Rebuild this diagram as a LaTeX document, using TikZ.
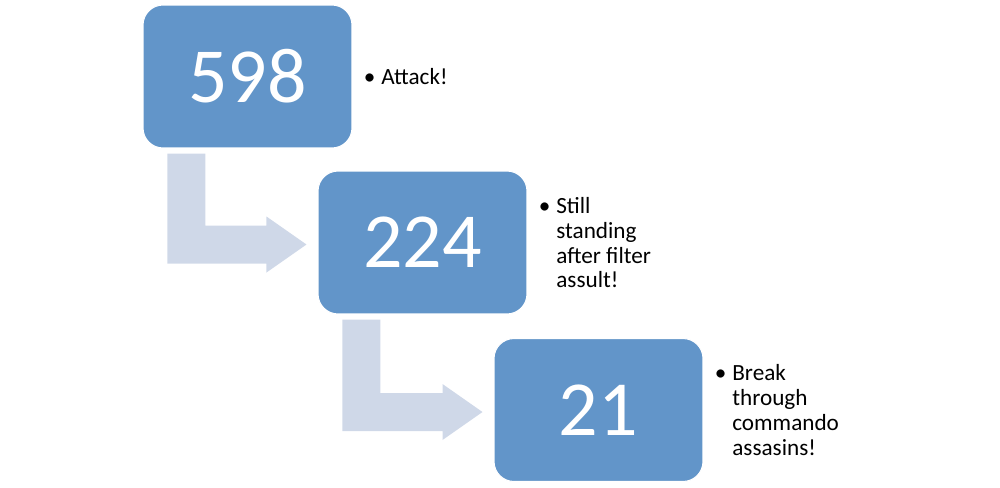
\documentclass[tikz,border=0pt]{standalone}
\usepackage{fontspec}
\setmainfont{Carlito}
\usepackage{tikz}
\usetikzlibrary{positioning,calc}
\definecolor{boxblue}{RGB}{98,149,201}
\definecolor{bendgrey}{RGB}{207,216,232}

\begin{document}
\begin{tikzpicture}[x=0.02cm, y=-0.02cm,
  count/.style={rectangle, rounded corners=0.4cm, fill=boxblue, draw=white, line width=0.6pt, minimum width=4.18cm, minimum height=2.86cm, text=white, font=\fontsize{44.4}{48}\selectfont},
  note/.style={inner sep=0pt, yshift=-1.8pt, font=\fontsize{13.2}{14.1}\selectfont},
  bentarrow/.style={fill=bendgrey}
]
  \useasboundingbox (0,0) rectangle (1000,487);

  \node[count] (n598) at (247.5,76.5) {598};
  \node[count] (n224) at (422.5,242.5) {224};
  \node[count] (n21) at (598.5,410) {21};

  \node[note, right=0.22cm of n598] (t598) {\begin{tabular}{@{}l@{}l@{}}\makebox[0.35cm][l]{\textbullet}&Attack!\end{tabular}};
  \node[note, right=0.22cm of n224] (t224) {\begin{tabular}{@{}l@{}l@{}}\makebox[0.35cm][l]{\textbullet}&Still\\&standing\\&after filter\\&assult!\end{tabular}};
  \node[note, right=0.22cm of n21] (t21) {\begin{tabular}{@{}l@{}l@{}}\makebox[0.35cm][l]{\textbullet}&Break\\&through\\&commando\\&assasins!\end{tabular}};

  \coordinate (a1) at ($(n598.south west)+(25,5)$);
  \coordinate (h1) at ($(n224.west)+(-11,2)$);
  \fill[bentarrow] (a1) -- ++(38,0) |- ($(h1)+(-40,-19)$) -- ++(0,-9) -- (h1) -- ++(-40,28) -- ++(0,-9) -| (a1) -- cycle;

  \coordinate (a2) at ($(n224.south west)+(25,5)$);
  \coordinate (h2) at ($(n21.west)+(-11,2)$);
  \fill[bentarrow] (a2) -- ++(38,0) |- ($(h2)+(-40,-19)$) -- ++(0,-9) -- (h2) -- ++(-40,28) -- ++(0,-9) -| (a2) -- cycle;
\end{tikzpicture}
\end{document}
